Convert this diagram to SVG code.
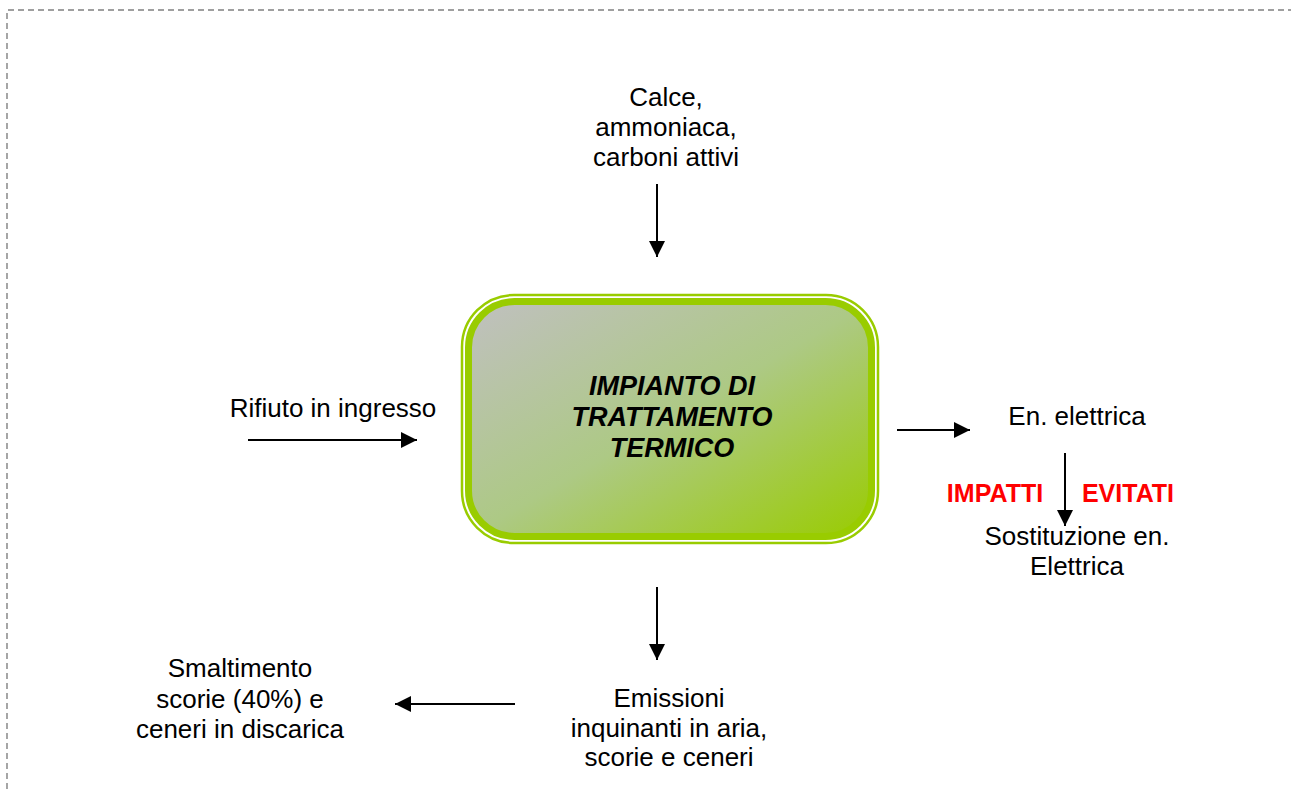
<svg xmlns="http://www.w3.org/2000/svg" width="1291" height="789" viewBox="0 0 1291 789">
<style>
  .t { font-family: "Liberation Sans", Arial, sans-serif; font-size: 26px; fill: #000; text-anchor: middle; }
  .b { font-family: "Liberation Sans", Arial, sans-serif; font-size: 27px; font-weight: bold; font-style: italic; fill: #000; text-anchor: middle; }
  .r { font-family: "Liberation Sans", Arial, sans-serif; font-size: 25px; font-weight: bold; fill: #ff0000; text-anchor: middle; }
  .c { stroke: #000; stroke-width: 2; fill: none; marker-end: url(#ah); }
  .frame { stroke: #808080; stroke-width: 1.4; stroke-dasharray: 6 4; fill: none; }
</style>
<defs>
  <marker id="ah" markerWidth="16" markerHeight="16" refX="16" refY="8" orient="auto" markerUnits="userSpaceOnUse">
    <path d="M0,0 L16,8 L0,16 Z" fill="#000"/>
  </marker>
  <linearGradient id="g" x1="0" y1="0" x2="1" y2="1">
    <stop offset="0" stop-color="#c0c0c0"/>
    <stop offset="0.5" stop-color="#adc985"/>
    <stop offset="1" stop-color="#99cc00"/>
  </linearGradient>
</defs>
<rect width="1291" height="789" fill="#fff"/>
<path class="frame" d="M7,789 L7,10 L1291,10"/>

<g id="impianto">
  <rect x="462" y="295" width="416" height="248" rx="52" fill="none" stroke="#99cc00" stroke-width="2.5"/>
  <rect x="468.5" y="301.5" width="403" height="235" rx="46" fill="url(#g)" stroke="#99cc00" stroke-width="7"/>
  <text class="b" x="672" y="395">IMPIANTO DI</text>
  <text class="b" x="672" y="426">TRATTAMENTO</text>
  <text class="b" x="672" y="457">TERMICO</text>
</g>

<g id="input-top">
  <text class="t" x="666" y="106">Calce,</text>
  <text class="t" x="666" y="136">ammoniaca,</text>
  <text class="t" x="666" y="166">carboni attivi</text>
</g>

<g id="rifiuto">
  <text class="t" x="333" y="417">Rifiuto in ingresso</text>
</g>

<g id="energia">
  <text class="t" x="1077" y="425">En. elettrica</text>
</g>

<g id="impatti">
  <text class="r" x="995" y="502">IMPATTI</text>
  <text class="r" x="1128" y="502">EVITATI</text>
</g>

<g id="sostituzione">
  <text class="t" x="1077" y="545">Sostituzione en.</text>
  <text class="t" x="1077" y="575">Elettrica</text>
</g>

<g id="emissioni">
  <text class="t" x="669" y="707">Emissioni</text>
  <text class="t" x="669" y="737">inquinanti in aria,</text>
  <text class="t" x="669" y="766">scorie e ceneri</text>
</g>

<g id="smaltimento">
  <text class="t" x="240" y="677">Smaltimento</text>
  <text class="t" x="240" y="708">scorie (40%) e</text>
  <text class="t" x="240" y="738">ceneri in discarica</text>
</g>

<g id="connectors">
  <line class="c" x1="657" y1="184" x2="657" y2="257"/>
  <line class="c" x1="248" y1="440" x2="417" y2="440"/>
  <line class="c" x1="897" y1="430" x2="970" y2="430"/>
  <line class="c" x1="1065" y1="453" x2="1065" y2="526"/>
  <line class="c" x1="657" y1="587" x2="657" y2="660"/>
  <line class="c" x1="515" y1="704" x2="395" y2="704"/>
</g>
</svg>
